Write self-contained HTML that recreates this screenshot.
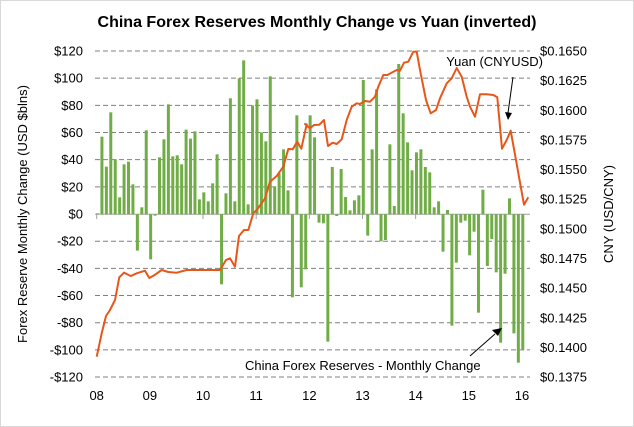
<!DOCTYPE html><html><head><style>body{margin:0;background:#fff}svg{display:block;font-family:"Liberation Sans",sans-serif}</style></head><body>
<svg id="s" width="634" height="427" xmlns="http://www.w3.org/2000/svg">
<rect x="0.5" y="0.5" width="633" height="426" fill="#fff" stroke="#d9d9d9"/>
<text x="317" y="27" text-anchor="middle" font-size="16" font-weight="bold" fill="#000">China Forex Reserves Monthly Change vs Yuan (inverted)</text>
<g id="grid"></g><g id="bars"></g><g id="lbl" font-size="13" fill="#000"></g>
<polyline id="ln" fill="none" stroke="#e8571a" stroke-width="2" stroke-linejoin="round"/>
<text x="543" y="66" text-anchor="end" font-size="13">Yuan (CNYUSD)</text>
<line x1="513" y1="77" x2="508" y2="113" stroke="#000"/><polygon points="505,112 512,113 508,120" fill="#000"/>
<text x="245" y="370" font-size="13">China Forex Reserves - Monthly  Change</text>
<line x1="470" y1="356" x2="495" y2="334" stroke="#000"/><polygon points="492,330 498,336 502,328" fill="#000"/>
<text transform="translate(27,214) rotate(-90)" text-anchor="middle" font-size="13">Forex Reserve Monthly  Change (USD $blns)</text>
<text transform="translate(613,214) rotate(-90)" text-anchor="middle" font-size="13">CNY (USD/CNY)</text>
</svg>
<script>
var NS="http://www.w3.org/2000/svg",s=document.getElementById('s');
function el(p,t,a,txt){var e=document.createElementNS(NS,t);for(var k in a)e.setAttribute(k,a[k]);if(txt!=null)e.textContent=txt;document.getElementById(p).appendChild(e);}
var L=["$120","$100","$80","$60","$40","$20","$0","-$20","-$40","-$60","-$80","-$100","-$120"];
for(var k=0;k<13;k++){var y=51+27.17*k;if(k!=6)el('grid','line',{x1:95,x2:530,y1:y,y2:y,stroke:'#808080','stroke-dasharray':'5,3'});
el('lbl','text',{x:83,y:y+4.5,'text-anchor':'end'},L[k]);}
el('grid','line',{x1:95,x2:530,y1:214.3,y2:214.3,stroke:'#a0a0a0'});
var R=["$0.1650","$0.1625","$0.1600","$0.1575","$0.1550","$0.1525","$0.1500","$0.1475","$0.1450","$0.1425","$0.1400","$0.1375"];
for(k=0;k<12;k++){el('lbl','text',{x:540,y:51+29.64*k+4.5},R[k]);}
var yr=["08","09","10","11","12","13","14","15","16"];
for(k=0;k<9;k++){var x=96.7+53.16*k;el('grid','line',{x1:x,x2:x,y1:214,y2:219,stroke:'#a0a0a0'});el('lbl','text',{x:x,y:400,'text-anchor':'middle'},yr[k]);}
var b=[520,290,380,217,358,472,373,365,433,632,502,271,658,527,352,298,193,349,346,373,269,296,274,478,457,484,430,343,733,460,175,484,115,61,493,196,178,277,304,109,439,400,328,451,772,226,742,688,226,292,548,550,905,381,528,387,471,511,481,466,120,587,328,148,604,600,313,498,72,220,307,391,337,328,381,397,502,484,635,510,857,668,548,542,646,575,818,449,678,597,697,908,701,475,880,968,930];
for(var i=0;i<b.length;i++){var y=40+b[i]/3,x=97.5+4.43*i;var t=Math.min(y,214.3),h=Math.abs(y-214.3);el('bars','rect',{x:x-1.5,y:t,width:3,height:Math.max(h,0.8),fill:'#70ad47'});}
var p1=[[20,950],[35,880],[48,828],[60,810],[75,780],[88,712],[102,698],[122,708],[140,700],[165,692],[178,714],[195,704],[215,690],[235,696],[260,698],[290,690],[390,690],[408,660],[420,655],[435,680],[447,588],[462,570],[475,570],[490,520],[502,508],[525,475],[540,425],[560,408],[580,380],[595,327],[608,328],[622,305],[634,326],[650,253]];
var p2=[[15,252],[30,265],[42,255],[58,254],[72,240],[84,318],[98,308],[110,312],[125,298],[140,240],[155,200],[170,190],[180,192],[195,183],[210,185],[225,170],[235,140],[250,105],[262,105],[290,90],[300,92],[312,68],[325,65],[340,35],[350,35],[360,90],[378,180],[392,220],[408,210],[420,175],[440,130],[455,115],[470,84],[485,110],[500,170],[510,200],[525,230],[540,163],[560,163],[580,165],[592,172],[606,326],[620,300],[632,272],[672,494],[685,472]];
var pts=p1.map(function(p){return (90+p[0]/3).toFixed(1)+','+(40+p[1]/3).toFixed(1)}).concat(p2.map(function(p){return (300+p[0]/3).toFixed(1)+','+(40+p[1]/3).toFixed(1)}));
document.getElementById('ln').setAttribute('points',pts.join(' '));
</script></body></html>
